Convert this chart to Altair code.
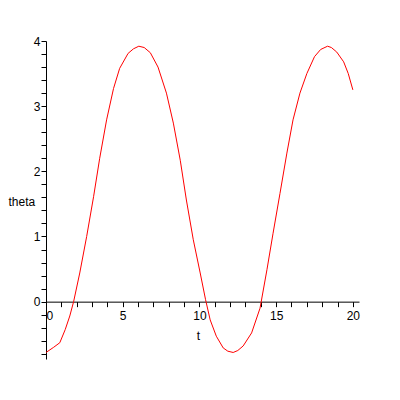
import altair as alt
import pandas as pd

t_vals = [0, 0.5, 0.9, 1.25, 1.55, 1.8, 2.2, 2.65, 3.1, 3.5, 3.95, 4.4, 4.8, 5.35, 5.7,
          6.05, 6.4, 6.8, 7.3, 7.85, 8.3, 8.75, 9.15, 9.6, 10.05, 10.4, 10.7, 11.1, 11.55,
          11.85, 12.2, 12.5, 12.85, 13.4, 13.95, 14.4, 14.8, 15.25, 15.7, 16.1, 16.55,
          17.0, 17.5, 17.9, 18.35, 18.6, 18.95, 19.4, 19.7, 20.0]
theta_vals = [-0.78, -0.70, -0.63, -0.43, -0.22, 0.0, 0.44, 1.0, 1.61, 2.2, 2.79, 3.27, 3.58, 3.81, 3.88,
              3.92, 3.9, 3.82, 3.6, 3.2, 2.74, 2.17, 1.56, 0.95, 0.44, 0.03, -0.28, -0.53, -0.71,
              -0.76, -0.78, -0.75, -0.68, -0.48, -0.1, 0.49, 1.05, 1.66, 2.28, 2.79, 3.2,
              3.5, 3.76, 3.87, 3.92, 3.9, 3.83, 3.68, 3.5, 3.25]

x_ticks = list(range(0, 21))
y_ticks = [round(-0.8 + 0.2 * i, 1) for i in range(25)]
x_domain = [0, 20.4]
y_domain = [-0.88, 4.0]

W, H = 313, 318
x_offset = -H * (0 - y_domain[0]) / (y_domain[1] - y_domain[0])

df = pd.DataFrame({"t": t_vals, "theta": theta_vals})

FONT = "Liberation Sans"

chart = alt.Chart(df).mark_line(color="#ff0000", strokeWidth=1).encode(
    x=alt.X("t:Q", scale=alt.Scale(domain=x_domain, nice=False, zero=False),
            axis=alt.Axis(values=x_ticks, grid=False, tickSize=5, tickColor="black",
                          domainColor="black", labelColor="black", labelFont=FONT,
                          labelFontSize=12, labelPadding=4,
                          labelExpr="datum.value % 5 == 0 ? '' + datum.value : ''",
                          offset=x_offset, title="t", titleFont=FONT, titleFontSize=12,
                          titleFontWeight="normal", titleColor="black",
                          titleX=152, titleY=29, titleBaseline="top", titleAlign="center")),
    y=alt.Y("theta:Q", scale=alt.Scale(domain=y_domain, nice=False, zero=False),
            axis=alt.Axis(values=y_ticks, grid=False, tickSize=5, tickColor="black",
                          domainColor="black", labelColor="black", labelFont=FONT,
                          labelFontSize=12, labelPadding=1,
                          labelExpr="abs(datum.value - round(datum.value)) < 0.001 ? '' + round(datum.value) : ''",
                          title="theta", titleFont=FONT, titleFontSize=12,
                          titleFontWeight="normal", titleColor="black", titleAngle=0,
                          titleAlign="left", titleBaseline="alphabetic",
                          titleX=-38, titleY=164)),
).properties(
    width=W, height=H,
    padding={"left": 38, "top": 33, "right": 33, "bottom": 33},
    autosize=alt.AutoSizeParams(type="none"),
).configure_view(stroke=None)

chart.save("out.html", embed_options={"renderer": "svg", "actions": False})
